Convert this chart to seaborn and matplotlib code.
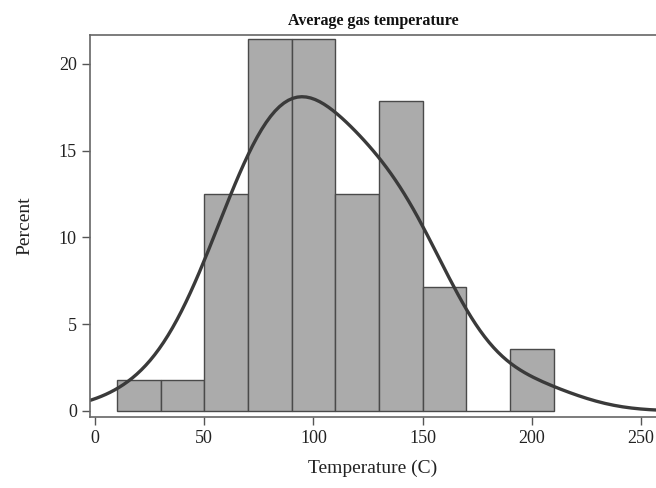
import numpy as np
import pandas as pd
import matplotlib
matplotlib.use("Agg")
import matplotlib.pyplot as plt
import seaborn as sns

# Temperature bins (centres, width 20) and observation counts per bin
bin_centers = [20, 40, 60, 80, 100, 120, 140, 160, 180, 200]
bin_counts = [1, 1, 7, 12, 12, 7, 10, 4, 0, 2]
x_ticks = [0, 50, 100, 150, 200, 250]
y_ticks = [0, 5, 10, 15, 20]

temps = np.repeat(bin_centers, bin_counts)
df = pd.DataFrame({"temp": temps})

sns.set_theme(style="ticks")
plt.rcParams["font.family"] = ["Liberation Serif", "DejaVu Serif"]

fig = plt.figure(figsize=(6.56, 4.88), dpi=100)
ax = fig.add_axes([90 / 656, 71 / 488, 566 / 656, 382 / 488])

sns.histplot(
    data=df, x="temp", stat="percent", binwidth=20, binrange=(10, 210),
    color="#ababab", alpha=1.0, edgecolor="#4a4a4a", linewidth=1.0,
    kde=True, kde_kws={"bw_adjust": 1.35, "cut": 5},
    line_kws={"color": "#3a3a3a", "linewidth": 2.4},
    ax=ax,
)
ax.lines[0].set_color("#3a3a3a")

ax.set_xlim(-2.3, 256.9)
ax.set_ylim(-0.35, 21.67)
ax.set_xticks(x_ticks)
ax.set_yticks(y_ticks)
ax.tick_params(axis="both", labelsize=13, length=6, width=1.0, color="#555555",
               labelcolor="#222222")
for side in ["left", "top", "bottom"]:
    ax.spines[side].set_color("#666666")
    ax.spines[side].set_linewidth(1.2)
    ax.spines[side].set_visible(True)
ax.spines["right"].set_visible(False)

ax.set_xlabel("Temperature (C)", fontsize=14, color="#222222", labelpad=9)
ax.set_ylabel("Percent", fontsize=14, color="#222222", labelpad=18)
ax.set_title("Average gas temperature", fontsize=11.5, fontweight="bold",
             color="#111111", pad=7)

fig.savefig("out.png", dpi=100)
